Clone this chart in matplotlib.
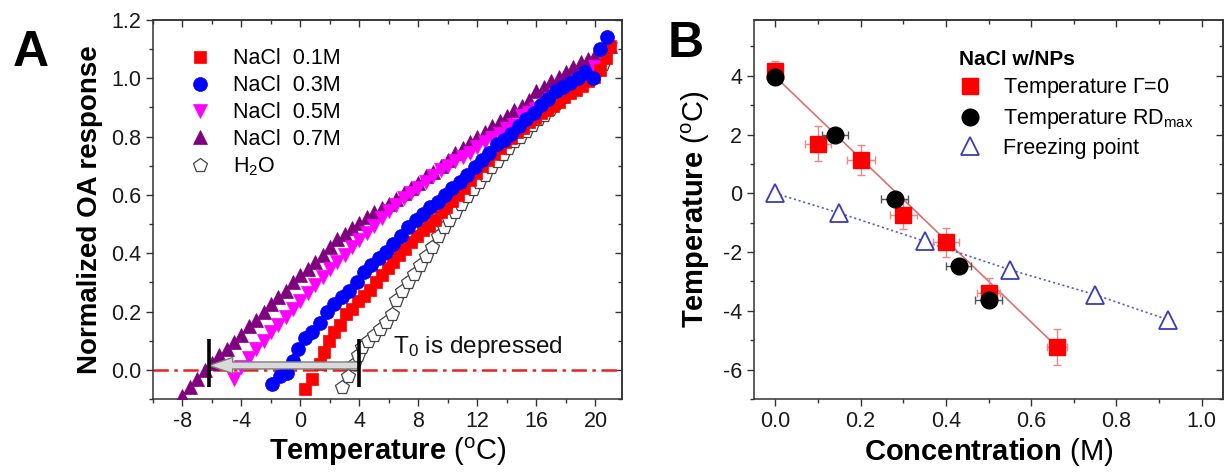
import numpy as np
import matplotlib
matplotlib.use('Agg')
import matplotlib.pyplot as plt
from matplotlib.ticker import MultipleLocator, FormatStrFormatter
from matplotlib.patches import FancyArrow

plt.rcParams['font.family'] = ['Liberation Sans', 'DejaVu Sans']
plt.rcParams['mathtext.fontset'] = 'custom'
plt.rcParams['mathtext.rm'] = 'Liberation Sans'
plt.rcParams['mathtext.it'] = 'Liberation Sans:italic'
plt.rcParams['mathtext.bf'] = 'Liberation Sans:bold'
plt.rcParams['axes.unicode_minus'] = False
plt.rcParams['lines.scale_dashes'] = False

# ---------------- Panel A data ----------------
t_07 = [-8.0, -7.5, -7.0, -6.5, -6.0, -5.5, -5.0, -4.5, -4.0, -3.5, -3.0, -2.5, -2.0, -1.5, -1.0,
        -0.5, 0.0, 0.5, 1.0, 1.5, 2.0, 2.5, 3.0, 3.5, 4.0, 4.5, 5.0, 5.5, 6.0, 6.5, 7.0, 7.5,
        8.0, 8.5, 9.0, 9.5, 10.0, 10.5, 11.0, 11.5, 12.0, 12.5, 13.0, 13.5, 14.0, 14.5, 15.0,
        15.5, 16.0, 16.5, 17.0, 17.5, 18.0, 18.5, 19.0, 19.5, 20.0, 20.5, 21.0]
oa_07 = [-0.09, -0.06, -0.03, 0.00, 0.025, 0.05, 0.07, 0.095, 0.12, 0.15, 0.17, 0.20, 0.225, 0.25,
         0.27, 0.30, 0.325, 0.345, 0.37, 0.395, 0.42, 0.45, 0.465, 0.485, 0.505, 0.525, 0.54,
         0.555, 0.57, 0.585, 0.605, 0.625, 0.64, 0.665, 0.68, 0.70, 0.72, 0.745, 0.76, 0.78,
         0.80, 0.815, 0.835, 0.855, 0.87, 0.89, 0.905, 0.925, 0.955, 0.97, 0.99, 1.005, 1.02,
         1.04, 1.055, 1.065, 1.08, 1.095, 1.11]

t_05 = [-4.5, -4.0, -3.5, -3.0, -2.5, -2.0, -1.5, -1.0, -0.5, 0.0, 0.5, 1.0, 1.5, 2.0, 2.5, 3.0,
        3.5, 4.0, 4.5, 5.0, 5.5, 6.0, 6.5, 7.0, 7.5, 8.0, 8.5, 9.0, 9.5, 10.0, 10.5, 11.0, 11.5,
        12.0, 12.5, 13.0, 13.5, 14.0, 14.5, 15.0, 15.5, 16.0, 16.5, 17.0, 17.5, 18.0, 18.5, 19.0,
        19.5, 20.0, 20.5, 21.0]
oa_05 = [-0.03, 0.01, 0.04, 0.07, 0.10, 0.13, 0.155, 0.18, 0.21, 0.235, 0.265, 0.29, 0.32, 0.345,
         0.37, 0.395, 0.42, 0.445, 0.47, 0.495, 0.52, 0.545, 0.565, 0.59, 0.605, 0.625, 0.645,
         0.665, 0.685, 0.70, 0.715, 0.73, 0.745, 0.765, 0.78, 0.795, 0.81, 0.825, 0.84, 0.87,
         0.88, 0.895, 0.91, 0.93, 0.945, 0.96, 0.98, 0.995, 1.015, 1.04, 1.07, 1.10]

t_03 = [-1.9, -1.4, -0.9, -0.5, -0.2, 0.3, 0.8, 1.3, 1.8, 2.3, 2.8, 3.3, 3.8, 4.3, 4.8, 5.3, 5.8,
        6.3, 6.8, 7.3, 7.8, 8.3, 8.8, 9.3, 9.8, 10.3, 10.8, 11.3, 11.8, 12.3, 12.8, 13.3, 13.8,
        14.3, 14.8, 15.3, 15.8, 16.3, 16.8, 17.3, 17.8, 18.3, 18.8, 19.3, 19.8, 20.3, 20.8]
oa_03 = [-0.05, -0.02, -0.01, 0.03, 0.07, 0.11, 0.13, 0.16, 0.20, 0.225, 0.25, 0.27, 0.30, 0.335,
         0.36, 0.385, 0.405, 0.43, 0.46, 0.49, 0.515, 0.535, 0.56, 0.575, 0.60, 0.625, 0.645,
         0.67, 0.695, 0.72, 0.745, 0.775, 0.79, 0.81, 0.835, 0.86, 0.88, 0.91, 0.93, 0.955,
         0.97, 0.985, 1.0, 1.02, 1.00, 1.10, 1.14]

t_01 = [0.3, 0.8, 1.3, 1.6, 1.9, 2.3, 2.7, 3.1, 3.5, 3.9, 4.3, 4.7, 5.1, 5.5, 5.9, 6.3, 6.7, 7.1,
        7.5, 7.9, 8.3, 8.7, 9.1, 9.5, 9.9, 10.3, 10.7, 11.1, 11.5, 11.9, 12.3, 12.7, 13.1, 13.5,
        13.9, 14.3, 14.7, 15.1, 15.5, 15.9, 16.3, 16.7, 17.1, 17.5, 17.9, 18.3, 18.7, 19.1, 19.5,
        19.9, 20.3, 20.7, 21.0]
oa_01 = [-0.065, -0.03, 0.02, 0.06, 0.10, 0.13, 0.155, 0.19, 0.21, 0.235, 0.255, 0.275, 0.30,
         0.325, 0.35, 0.37, 0.395, 0.415, 0.44, 0.46, 0.48, 0.495, 0.515, 0.54, 0.56, 0.58, 0.60,
         0.625, 0.65, 0.675, 0.70, 0.72, 0.74, 0.76, 0.78, 0.795, 0.815, 0.83, 0.85, 0.865, 0.88,
         0.89, 0.905, 0.92, 0.935, 0.95, 0.96, 0.975, 0.99, 1.005, 1.03, 1.07, 1.11]

t_h2o = [2.8, 3.2, 3.6, 3.9, 4.2, 4.6, 5.0, 5.4, 5.8, 6.2, 6.5, 6.9, 7.3, 7.7, 8.1, 8.5, 8.9, 9.3,
         9.7, 10.1, 10.5, 10.9, 11.3, 11.7, 12.1, 12.5, 12.9, 13.3, 13.7, 14.1, 14.5, 14.9, 15.3,
         15.7, 16.1, 16.5, 16.9, 17.3, 17.7, 18.1, 18.5, 18.9, 19.3, 19.7, 20.1, 20.5]
oa_h2o = [-0.06, -0.02, 0.02, 0.05, 0.08, 0.10, 0.12, 0.14, 0.165, 0.19, 0.24, 0.27, 0.30, 0.33,
          0.36, 0.39, 0.42, 0.46, 0.49, 0.515, 0.54, 0.57, 0.595, 0.62, 0.645, 0.67, 0.695,
          0.715, 0.74, 0.76, 0.785, 0.80, 0.82, 0.84, 0.86, 0.875, 0.895, 0.915, 0.935, 0.955,
          0.97, 0.985, 1.00, 1.015, 1.03, 1.05]

T0_water = 4.0     # T0 of pure water (right bar)
T0_salt = -6.2     # depressed T0 (left bar)

# ---------------- Panel B data ----------------
conc_gamma = [0.0, 0.1, 0.2, 0.3, 0.4, 0.5, 0.661]
temp_gamma = [4.15, 1.69, 1.14, -0.73, -1.67, -3.39, -5.23]
yerr_gamma = [0.35, 0.6, 0.5, 0.5, 0.5, 0.5, 0.6]
xerr_gamma = [0.0, 0.031, 0.033, 0.032, 0.03, 0.027, 0.024]

conc_rd = [0.0, 0.14, 0.28, 0.43, 0.5]
temp_rd = [3.97, 2.0, -0.19, -2.49, -3.62]
xerr_rd = [0.0, 0.031, 0.031, 0.029, 0.031]

conc_fp = [0.0, 0.15, 0.35, 0.55, 0.75, 0.92]
temp_fp = [0.0, -0.67, -1.63, -2.6, -3.45, -4.3]

fit_conc = [0.0, 0.661]
fit_temp = [3.97, -5.23]

# ---------------- Figure ----------------
W, H = 1226, 475
fig = plt.figure(figsize=(W / 100, H / 100), dpi=100)


def rect(l, t, r, b):
    return [l / W, 1 - b / H, (r - l) / W, (b - t) / H]


axA = fig.add_axes(rect(153, 20, 622, 399))
axB = fig.add_axes(rect(754, 20, 1223, 399))

TICK = 15.5
SPC = '#333333'


def style(ax, xmaj, xmin, ymaj, ymin):
    for s in ax.spines.values():
        s.set_linewidth(1.1)
        s.set_color(SPC)
    ax.xaxis.set_major_locator(MultipleLocator(xmaj))
    ax.xaxis.set_minor_locator(MultipleLocator(xmin))
    ax.yaxis.set_major_locator(MultipleLocator(ymaj))
    ax.yaxis.set_minor_locator(MultipleLocator(ymin))
    ax.tick_params(which='both', direction='out', width=1.0, color=SPC,
                   labelsize=TICK, labelcolor='#1a1a1a')
    ax.tick_params(which='major', length=5)
    ax.tick_params(which='minor', length=3.2)
    sx = ax.secondary_xaxis('top')
    sx.xaxis.set_major_locator(MultipleLocator(xmaj))
    sx.xaxis.set_minor_locator(MultipleLocator(xmin))
    sx.tick_params(which='both', direction='in', labeltop=False, width=1.0, color=SPC)
    sx.tick_params(which='major', length=5)
    sx.tick_params(which='minor', length=3.2)
    sx.spines['top'].set_linewidth(1.1)
    sx.spines['top'].set_color(SPC)
    sy = ax.secondary_yaxis('right')
    sy.yaxis.set_major_locator(MultipleLocator(ymaj))
    sy.yaxis.set_minor_locator(MultipleLocator(ymin))
    sy.tick_params(which='both', direction='in', labelright=False, width=1.0, color=SPC)
    sy.tick_params(which='major', length=5)
    sy.tick_params(which='minor', length=3.2)
    sy.spines['right'].set_linewidth(1.1)
    sy.spines['right'].set_color(SPC)


# ---- Panel A ----
axA.set_xlim(-10, 21.8)
axA.set_ylim(-0.1, 1.2)
style(axA, 4, 2, 0.2, 0.1)
axA.yaxis.set_major_formatter(FormatStrFormatter('%.1f'))

axA.axhline(0, color='#e52222', lw=1.8, dashes=(11, 4, 2.5, 4), zorder=1)

h_h2o, = axA.plot(t_h2o, oa_h2o, ls='none', marker='p', ms=10.5, mfc='white', mec='#444444',
                  mew=0.9, zorder=2, label=r'H$_2$O')
h07, = axA.plot(t_07, oa_07, ls='none', marker='^', ms=10, mfc='#800080', mec='#800080',
                mew=0.5, zorder=3, label='NaCl  0.7M')
h05, = axA.plot(t_05, oa_05, ls='none', marker='v', ms=10, mfc='#ff00ff', mec='#ff00ff',
                mew=0.5, zorder=3, label='NaCl  0.5M')
h01, = axA.plot(t_01, oa_01, ls='none', marker='s', ms=8.5, mfc='#ff0000', mec='#ff0000',
                mew=0.5, zorder=4, label='NaCl  0.1M')
h03, = axA.plot(t_03, oa_03, ls='none', marker='o', ms=10, mfc='#0000ff', mec='#0000ff',
                mew=0.5, zorder=5, label='NaCl  0.3M')

axA.add_patch(FancyArrow(T0_water, 0.015, T0_salt - T0_water, 0, width=0.024,
                         head_width=0.055, head_length=1.6, length_includes_head=True,
                         fc='#d9d9d9', ec='#7a7a7a', lw=1.0, zorder=8))
axA.vlines([T0_salt, T0_water], -0.058, 0.106, colors='black', lw=2.6, zorder=9)
axA.text(6.3, 0.078, r'T$_0$ is depressed', fontsize=17.5, ha='left', va='center',
         color='#111111', zorder=10)

legA = axA.legend(handles=[h01, h03, h05, h07, h_h2o], loc='upper left',
                  bbox_to_anchor=((189 - 153) / 469, 0.925), frameon=False,
                  fontsize=15.5, borderaxespad=0, borderpad=0, handlelength=1.0,
                  handletextpad=1.05, labelspacing=0.27)

axA.set_ylabel('Normalized OA response', fontsize=20, fontweight='bold', labelpad=6)
axA.set_xlabel(r'$\mathbf{Temperature}$ ($^{\mathrm{o}}$C)', fontsize=21, labelpad=3)

# ---- Panel B ----
axB.set_xlim(-0.05, 1.05)
axB.set_ylim(-7, 5.9)
style(axB, 0.2, 0.1, 2, 1)
axB.xaxis.set_major_formatter(FormatStrFormatter('%.1f'))

axB.plot(fit_conc, fit_temp, color='#d9716f', lw=1.2, zorder=2)
axB.plot(conc_fp, temp_fp, color='#5a5acb', lw=1.2, ls=(0, (1.5, 2.0)), zorder=2)

axB.errorbar(conc_gamma, temp_gamma, yerr=yerr_gamma, xerr=xerr_gamma, fmt='none',
             ecolor='#ee8888', elinewidth=1.0, capsize=3, capthick=1.0, zorder=3)
hg, = axB.plot(conc_gamma, temp_gamma, ls='none', marker='s', ms=11, mfc='#ff0000',
               mec='#ff0000', zorder=4, label=r'Temperature $\Gamma$=0')
axB.errorbar(conc_rd, temp_rd, xerr=xerr_rd, fmt='none', ecolor='#555555',
             elinewidth=1.0, capsize=3, capthick=1.0, zorder=5)
hr, = axB.plot(conc_rd, temp_rd, ls='none', marker='o', ms=12, mfc='black', mec='black',
               zorder=6, label=r'Temperature RD$_{\mathrm{max}}$')
hf, = axB.plot(conc_fp, temp_fp, ls='none', marker='^', ms=13, mfc='white', mec='#3b3bb8',
               mew=1.3, zorder=6, label='Freezing point')

legB = axB.legend(handles=[hg, hr, hf], loc='upper left',
                  bbox_to_anchor=((959 - 754) / 469, 0.92), frameon=False,
                  fontsize=15.5, borderaxespad=0, borderpad=0, handlelength=1.0,
                  handletextpad=1.05, labelspacing=0.32, title='NaCl w/NPs',
                  title_fontproperties={'weight': 'bold', 'size': 15},
                  alignment='left')

axB.set_ylabel(r'$\mathbf{Temperature}$ ($^{\mathrm{o}}$C)', fontsize=21, labelpad=8)
axB.set_xlabel(r'$\mathbf{Concentration}$ (M)', fontsize=21, labelpad=3)

fig.text(31 / W, 1 - 53 / H, 'A', fontsize=36, fontweight='bold', ha='center', va='center')
fig.text(686 / W, 1 - 44 / H, 'B', fontsize=36, fontweight='bold', ha='center', va='center')

fig.savefig('out.png', dpi=100)
